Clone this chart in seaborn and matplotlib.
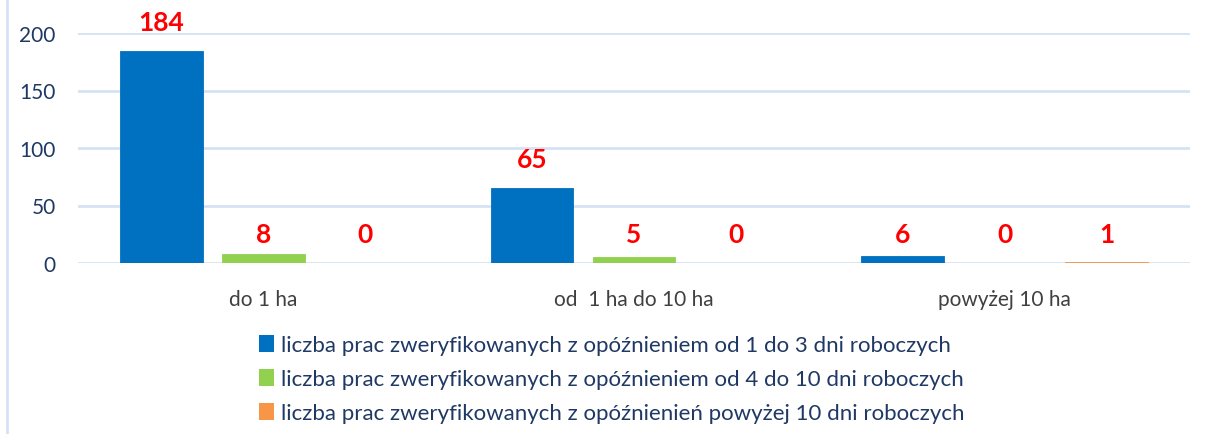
import pandas as pd
import matplotlib.pyplot as plt
import seaborn as sns
from matplotlib.patches import Patch
from matplotlib.lines import Line2D

categories = ["do 1 ha", "od  1 ha do 10 ha", "powyżej 10 ha"]
series_names = [
    "liczba prac zweryfikowanych z opóźnieniem od 1 do 3 dni roboczych",
    "liczba prac zweryfikowanych z opóźnieniem od 4 do 10 dni roboczych",
    "liczba prac zweryfikowanych z opóźnienień powyżej 10 dni roboczych",
]
delay_1_3 = [184, 65, 6]
delay_4_10 = [8, 5, 0]
delay_over_10 = [0, 0, 1]
y_ticks = [0, 50, 100, 150, 200]

colors = ["#0070C0", "#92D050", "#F79646"]
text_color = "#1F3864"

df = pd.DataFrame({
    "kategoria": categories * 3,
    "seria": [series_names[0]] * 3 + [series_names[1]] * 3 + [series_names[2]] * 3,
    "wartosc": delay_1_3 + delay_4_10 + delay_over_10,
})

sns.set_style("white")
plt.rcParams["font.family"] = ["Lato", "DejaVu Sans"]

fig = plt.figure(figsize=(12.08, 4.35), dpi=100)
ax = fig.add_axes([78 / 1208, (435 - 264) / 435, 1112 / 1208, 230 / 435])

sns.barplot(data=df, x="kategoria", y="wartosc", hue="seria", palette=colors,
            width=0.825, gap=0.19, ax=ax, legend=False, saturation=1)

# thin bars (value 1) should still show as a line
for p in ax.patches:
    p.set_edgecolor(p.get_facecolor())
    p.set_linewidth(0.6)
    p.set_zorder(3)

ax.set_ylim(0, 200)
ax.set_xlim(-0.5, 2.5)
ax.set_yticks(y_ticks)
ax.yaxis.grid(True, color="#D6E2F4", linewidth=2)
ax.set_axisbelow(True)
ax.set_xlabel("")
ax.set_ylabel("")
for s in ax.spines.values():
    s.set_visible(False)
ax.tick_params(axis="both", length=0)
ax.tick_params(axis="y", labelsize=15, labelcolor=text_color, pad=16)
ax.tick_params(axis="x", labelsize=15, labelcolor="#404040", pad=19)

# data labels
for container in ax.containers:
    for bar in container:
        v = bar.get_height()
        x = bar.get_x() + bar.get_width() / 2
        base = v if v > 20 else 0
        ax.annotate(f"{int(v)}", (x, base), xytext=(0, 21), textcoords="offset points",
                    ha="center", va="center", color="#FF0000", fontsize=19,
                    fontweight="bold", annotation_clip=False)

handles = [Patch(facecolor=c, edgecolor="none") for c in colors]
fig.legend(handles, series_names, loc="center", bbox_to_anchor=(612 / 1208, 1 - 380 / 435),
           ncol=1, frameon=False, fontsize=16, labelcolor=text_color,
           handlelength=0.65, handleheight=0.8, handletextpad=0.35, labelspacing=0.62,
           borderpad=0)

fig.add_artist(Line2D([7 / 1208, 7 / 1208], [0, 1], color="#D6E2F4", linewidth=2,
                      transform=fig.transFigure))

fig.savefig("out.png", dpi=100)
